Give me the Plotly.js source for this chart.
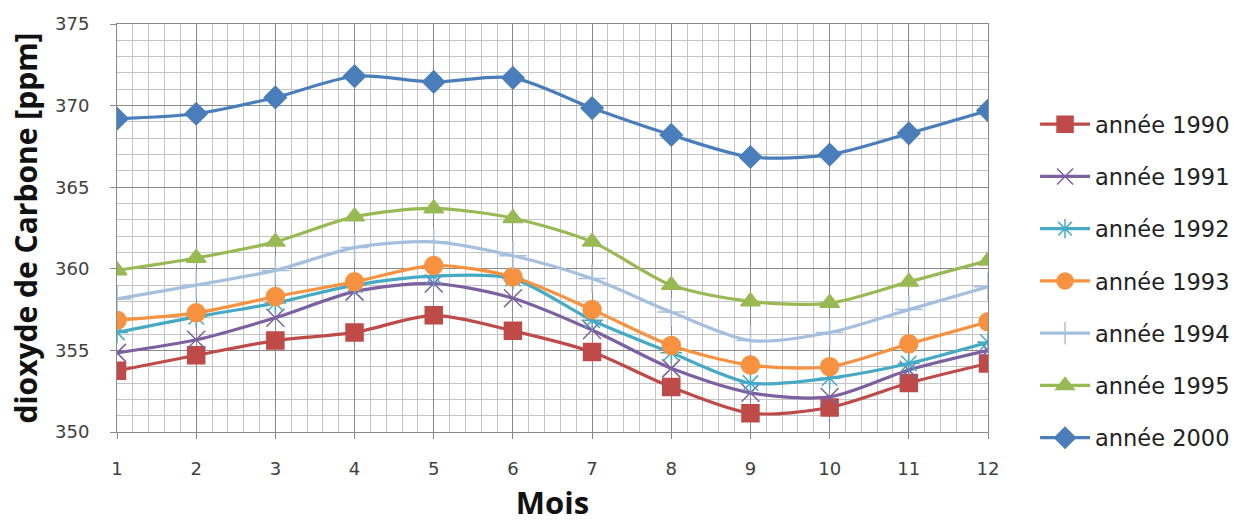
<!DOCTYPE html>
<html>
<head>
<meta charset="utf-8">
<script src="https://cdn.plot.ly/plotly-3.0.1.min.js"></script>
<style>html,body{margin:0;padding:0;background:#fff;}#chart{width:1244px;height:523px;}</style>
</head>
<body>
<div id="chart"></div>
<script>
const months = [1,2,3,4,5,6,7,8,9,10,11,12];
const y1990 = [353.75,354.7,355.6,356.1,357.15,356.2,354.9,352.75,351.15,351.5,353.0,354.2];
const y1991 = [354.85,355.65,357.0,358.6,359.1,358.2,356.25,353.9,352.4,352.15,353.8,355.0];
const y1992 = [356.1,357.05,357.9,359.0,359.55,359.4,356.85,354.85,353.0,353.3,354.2,355.5];
const y1993 = [356.85,357.3,358.3,359.2,360.2,359.5,357.5,355.3,354.1,354.0,355.4,356.75];
const y1994 = [358.15,359.0,359.9,361.3,361.65,360.8,359.4,357.35,355.6,356.1,357.5,358.9];
const y1995 = [359.9,360.66,361.65,363.2,363.7,363.1,361.65,359.0,358.0,357.9,359.2,360.5];
const y2000 = [369.2,369.5,370.5,371.8,371.45,371.7,369.85,368.2,366.85,367.0,368.3,369.7];
const seriesNames = ['année 1990','année 1991','année 1992','année 1993','année 1994','année 1995','année 2000'];
const seriesData = [y1990,y1991,y1992,y1993,y1994,y1995,y2000];
const colors = ['#BE4B48','#7D60A0','#46AAC5','#F69240','#A5BFDE','#98B954','#4A7EBB'];
const symbols = ['square','x-thin-open','asterisk-open','circle','cross-thin-open','triangle-up','diamond'];
const sizes = [17,18,18,18,20,17,17];

const traces = seriesData.map((d,i)=>({
  x: months, y: d, name: seriesNames[i], type:'scatter', mode:'lines+markers',
  legendgroup: 'g'+i,
  line:{color:colors[i], width:3.2, shape:'spline', smoothing:0.8},
  marker:{symbol:symbols[i], size:sizes[i], color:colors[i], line:{color:colors[i], width:1.5}}
}));

const layout = {
  width:1244, height:523,
  margin:{l:117, r:0, t:24, b:91},
  paper_bgcolor:'#fff', plot_bgcolor:'#fff',
  font:{family:'DejaVu Sans, sans-serif', color:'#404040', size:18},
  showlegend:true,
  legend:{x:0.8146, xanchor:'left', y:0.37, yanchor:'middle', traceorder:'grouped', tracegroupgap:20,
    itemwidth:50,
    font:{family:'DejaVu Sans, sans-serif', size:22.5, color:'#222'}, bgcolor:'rgba(0,0,0,0)'},
  xaxis:{domain:[0, 0.77285], range:[1,12], dtick:1, tick0:1, showgrid:true, gridcolor:'#8a8a8a', gridwidth:1,
    minor:{dtick:0.2, tick0:1, showgrid:true, gridcolor:'#c4c4c4', gridwidth:1},
    showline:true, linecolor:'#8a8a8a', mirror:true, ticks:'outside', ticklen:6, tickcolor:'#8a8a8a',
    zeroline:false, ticklabelstandoff:14,
    title:{text:'<b>Mois</b>', font:{family:'Open Sans, sans-serif', size:31, color:'#111'}, standoff:27}},
  yaxis:{range:[350,375], dtick:5, showgrid:true, gridcolor:'#8a8a8a', gridwidth:1,
    minor:{dtick:1, showgrid:true, gridcolor:'#c4c4c4', gridwidth:1},
    showline:true, linecolor:'#8a8a8a', mirror:true, ticks:'outside', ticklen:6, tickcolor:'#8a8a8a',
    zeroline:false, ticklabelstandoff:17,
    title:{text:'<b>dioxyde de Carbone [ppm]</b>', font:{family:'Open Sans, sans-serif', size:30, color:'#111'}, standoff:8}}
};
Plotly.newPlot('chart', traces, layout, {displayModeBar:false, staticPlot:true});
</script>
</body>
</html>
